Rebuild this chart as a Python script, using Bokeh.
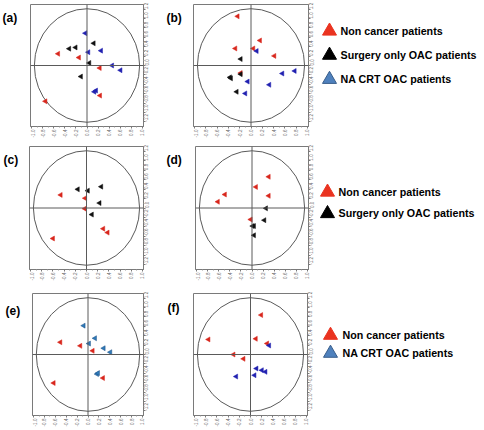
import math
from bokeh.plotting import figure
from bokeh.models import Span, Label, FixedTicker, NumeralTickFormatter, Range1d
from bokeh.core.properties import value
from bokeh.layouts import row, column
from bokeh.embed import file_html
from bokeh.resources import INLINE

# ---- scales ----
X_HALF = 1.02
Y_HALF = 1.30
ELL_RX = 0.95
ELL_RY = 1.21
x_ticks = [-1.0, -0.8, -0.6, -0.4, -0.2, 0.0, 0.2, 0.4, 0.6, 0.8, 1.0]
y_ticks = [-1.2, -1.0, -0.8, -0.6, -0.4, -0.2, 0.0, 0.2, 0.4, 0.6, 0.8, 1.0, 1.2]
x_minor = [-0.9, -0.7, -0.5, -0.3, -0.1, 0.1, 0.3, 0.5, 0.7, 0.9]
y_minor = [-1.1, -0.9, -0.7, -0.5, -0.3, -0.1, 0.1, 0.3, 0.5, 0.7, 0.9, 1.1]

# ---- groups ----
group_names = ["Non cancer patients", "Surgery only OAC patients", "NA CRT OAC patients"]
panel_tags = ["(a)", "(b)", "(c)", "(d)", "(e)", "(f)"]

# ---- data ----
a_non_x = [-0.521, -0.145, 0.230, 0.236, -0.751]
a_non_y = [0.250, 0.169, -0.054, -0.642, -0.763]
a_surg_x = [0.121, -0.206, -0.321, 0.042, -0.109]
a_surg_y = [0.473, 0.385, 0.358, 0.054, -0.236]
a_crt_x = [-0.030, 0.024, 0.254, 0.454, 0.605, 0.133, 0.163]
a_crt_y = [0.689, 0.284, 0.317, 0.000, -0.101, -0.561, -0.534]

b_non_x = [-0.237, 0.160, -0.278, 0.041, 0.414, -0.183]
b_non_y = [1.047, 0.534, 0.363, 0.363, 0.205, -0.160]
b_surg_x = [-0.183, -0.373, -0.355, -0.183, -0.254]
b_surg_y = [0.137, -0.253, -0.274, -0.185, -0.561]
b_crt_x = [0.101, 0.775, 0.556, -0.059, 0.325, -0.101]
b_crt_y = [0.308, -0.116, -0.171, -0.342, -0.411, -0.595]

c_non_x = [-0.462, -0.024, -0.030, 0.300, 0.378, -0.600]
c_non_y = [0.277, 0.208, -0.014, -0.437, -0.520, -0.645]
c_surg_x = [-0.156, 0.024, 0.264, 0.234, 0.096]
c_surg_y = [0.395, 0.367, 0.451, 0.104, -0.139]

d_non_x = [0.302, 0.072, -0.489, 0.302, -0.616, -0.024]
d_non_y = [0.660, 0.445, 0.285, 0.257, 0.132, -0.243]
d_surg_x = [0.253, 0.223, 0.012, 0.036, 0.036]
d_surg_y = [-0.007, -0.257, -0.382, -0.382, -0.577]

e_non_x = [-0.508, -0.141, 0.086, 0.276, -0.631]
e_non_y = [0.261, 0.184, 0.078, -0.502, -0.608]
e_crt_x = [-0.080, 0.129, 0.018, 0.288, 0.410, 0.166, 0.184]
e_crt_y = [0.615, 0.346, 0.233, 0.134, 0.049, -0.417, -0.396]

f_non_x = [0.191, -0.752, 0.095, 0.298, -0.304, -0.125]
f_non_y = [0.841, 0.321, 0.335, 0.235, 0.000, -0.093]
f_crt_x = [0.334, 0.107, 0.203, 0.268, 0.072, -0.256]
f_crt_y = [0.192, -0.299, -0.335, -0.370, -0.442, -0.470]

# ---- styles ----
RED = "#d8261c"
BLACK = "#111111"
DBLUE = "#2020b0"
SBLUE = "#2f7ab8"
SBLUE_LINE = "#1a4f85"
LEG_RED = "#ea3320"
LEG_BLACK = "#000000"
LEG_BLUE = "#4f81bd"
LEG_BLUE_LINE = "#385d8a"
FONT = "Liberation Sans"
LEG_W = 165


def blank(width, height):
    p = figure(width=width, height=height, output_backend="svg", toolbar_location=None,
               tools="", x_range=Range1d(0, width), y_range=Range1d(height, 0),
               x_axis_location=None, y_axis_location=None, min_border=0)
    p.grid.visible = False
    p.outline_line_color = None
    p.background_fill_color = "white"
    p.border_fill_color = "white"
    return p


def tag_fig(tag, width, height, tx, ty):
    p = blank(width, height)
    p.add_layout(Label(x=tx, y=ty, text=tag, text_baseline="top", text_align="left",
                       text_font=FONT, text_font_size="12px", text_font_style="bold",
                       text_color="black"))
    return p


def make_panel(width, height, br, bt, bb):
    p = figure(width=width, height=height, output_backend="svg", toolbar_location=None,
               tools="", x_range=Range1d(-X_HALF, X_HALF), y_range=Range1d(-Y_HALF, Y_HALF),
               x_axis_location="below", y_axis_location="right",
               min_border_left=0, min_border_right=br, min_border_top=bt, min_border_bottom=bb)
    p.grid.visible = False
    p.outline_line_color = "#7a7a7a"
    p.background_fill_color = "white"
    p.border_fill_color = "white"
    for ax, tk, mn in ((p.xaxis[0], x_ticks, x_minor), (p.yaxis[0], y_ticks, y_minor)):
        ax.ticker = FixedTicker(ticks=tk, minor_ticks=mn)
        ax.formatter = NumeralTickFormatter(format="0.0")
        ax.major_label_orientation = math.pi / 2
        ax.major_label_text_font_size = "4.6px"
        ax.major_label_text_color = "#6a6a6a"
        ax.major_label_text_font = FONT
        ax.major_label_standoff = 1
        ax.major_tick_out = 2
        ax.major_tick_in = 0
        ax.minor_tick_out = 1
        ax.minor_tick_in = 0
        ax.axis_line_color = "#7a7a7a"
        ax.major_tick_line_color = "#7a7a7a"
        ax.minor_tick_line_color = "#9a9a9a"
    p.ellipse(x=[0], y=[0], width=[2 * ELL_RX], height=[2 * ELL_RY],
              fill_color=None, line_color="#5a5a5a", line_width=1)
    p.add_layout(Span(location=0, dimension="width", line_color="#5a5a5a", line_width=1))
    p.add_layout(Span(location=0, dimension="height", line_color="#5a5a5a", line_width=1))
    return p


def pts(p, xs, ys, color, line=None):
    p.scatter(x=xs, y=ys, marker="triangle", size=5, angle=math.pi / 2,
              fill_color=color, line_color=line or color, line_width=0.5)


def legend_fig(height, names, fills, lines, mx, tx, y0, pitch):
    p = blank(LEG_W, height)
    ys = [y0 + i * pitch for i in range(len(names))]
    p.scatter(x=[mx] * len(names), y=[y + 2 for y in ys], marker="triangle", size=14,
              fill_color=fills, line_color=lines, line_width=1)
    p.text(x=[tx] * len(names), y=[y + 1.5 for y in ys], text=names,
           text_font=value(FONT), text_font_style="bold", text_font_size="10.7px",
           text_baseline="middle", text_align="left", text_color="black")
    return p


H1, H2, H3 = 140, 143, 146

# row 1
pa = make_panel(135, H1, 22, 4, 9)
pts(pa, a_non_x, a_non_y, RED)
pts(pa, a_surg_x, a_surg_y, BLACK)
pts(pa, a_crt_x, a_crt_y, DBLUE)
pb = make_panel(125, H1, 10, 4, 9)
pts(pb, b_non_x, b_non_y, RED)
pts(pb, b_surg_x, b_surg_y, BLACK)
pts(pb, b_crt_x, b_crt_y, DBLUE)
lb = legend_fig(H1, group_names, [LEG_RED, LEG_BLACK, LEG_BLUE],
                [LEG_RED, LEG_BLACK, LEG_BLUE_LINE], 11, 22, 28.5, 27.7)
r1 = row(tag_fig(panel_tags[0], 30, H1, 2, 8), pa, tag_fig(panel_tags[1], 28, H1, 1, 8), pb, lb)

# row 2
pc = make_panel(136, H2, 22, 6, 12)
pts(pc, c_non_x, c_non_y, RED)
pts(pc, c_surg_x, c_surg_y, BLACK)
pd = make_panel(123, H2, 10, 6, 12)
pts(pd, d_non_x, d_non_y, RED)
pts(pd, d_surg_x, d_surg_y, BLACK)
ld = legend_fig(H2, group_names[:2], [LEG_RED, LEG_BLACK], [LEG_RED, LEG_BLACK],
                9, 20, 51, 25)
r2 = row(tag_fig(panel_tags[2], 29, H2, 3, 8), pc, tag_fig(panel_tags[3], 30, H2, 1, 8), pd, ld)

# row 3
pe = make_panel(133, H3, 22, 9, 14)
pts(pe, e_non_x, e_non_y, RED)
pts(pe, e_crt_x, e_crt_y, SBLUE, SBLUE_LINE)
pf = make_panel(125, H3, 11, 10, 13)
pts(pf, f_non_x, f_non_y, RED)
pts(pf, f_crt_x, f_crt_y, DBLUE)
lf = legend_fig(H3, [group_names[0], group_names[2]], [LEG_RED, LEG_BLUE],
                [LEG_RED, LEG_BLUE_LINE], 12, 24, 48, 21.5)
r3 = row(tag_fig(panel_tags[4], 32, H3, 5, 12), pe, tag_fig(panel_tags[5], 28, H3, 2, 9), pf, lf)

layout = column(r1, r2, r3)
open("out.html", "w").write(file_html(layout, INLINE))
